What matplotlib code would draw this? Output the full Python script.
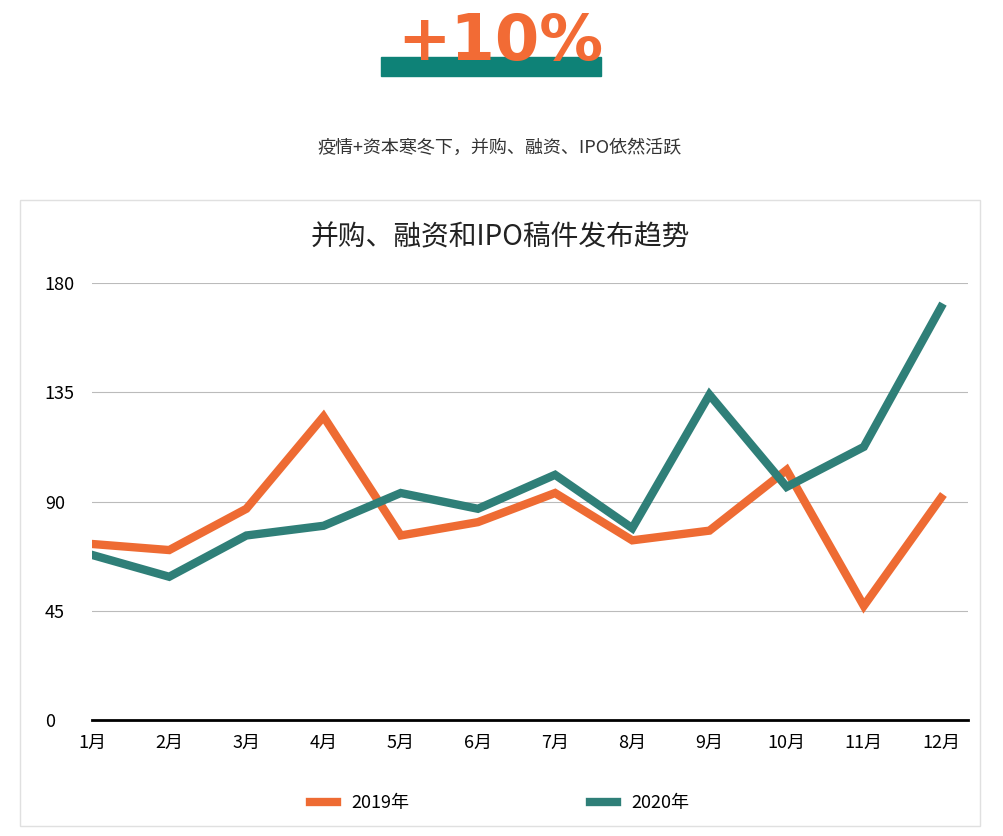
import matplotlib.pyplot as plt
from matplotlib.patches import Rectangle

plt.rcParams["font.family"] = ["sans-serif"]
plt.rcParams["font.sans-serif"] = ["Noto Sans CJK SC", "Noto Sans CJK JP", "Noto Sans CJK TC",
                                   "Noto Sans CJK KR", "DejaVu Sans"]

months = ["1月", "2月", "3月", "4月", "5月", "6月", "7月", "8月", "9月", "10月", "11月", "12月"]
y2019 = [72.5, 70, 87, 125, 76, 81.5, 93.5, 74, 78, 103, 47, 91.5]
y2020 = [68, 59, 76, 80, 93.5, 87, 101, 79, 134, 96, 112.5, 170]

orange = "#ee6b33"
teal = "#2f7f78"

fig = plt.figure(figsize=(10.04, 8.36), dpi=100)
W, H = 1004, 836

# header
fig.patches.append(Rectangle((381 / W, 1 - 76 / H), 220 / W, 19 / H,
                             transform=fig.transFigure, color="#0e8277", zorder=1))
fig.text(500 / W, 1 - 42 / H, "+10%", color="#f26b35", fontsize=46, fontweight="bold",
         ha="center", va="center", fontfamily="DejaVu Sans", zorder=2)
fig.text(500 / W, 1 - 148 / H, "疫情+资本寒冬下，并购、融资、IPO依然活跃",
         fontsize=13, ha="center", va="center", color="#333333")

# chart frame
fig.patches.append(Rectangle((20 / W, 1 - 826 / H), 960 / W, 626 / H, transform=fig.transFigure,
                             fill=False, edgecolor="#e0e0e0", lw=1))
fig.text(500 / W, 1 - 237 / H, "并购、融资和IPO稿件发布趋势", fontsize=20,
         ha="center", va="center", color="#222222")

ax = fig.add_axes([92 / W, 1 - 720 / H, 876 / W, 437 / H])
x = range(len(months))
ax.plot(x, y2019, color=orange, lw=6, label="2019年", solid_joinstyle="miter")
ax.plot(x, y2020, color=teal, lw=6, label="2020年", solid_joinstyle="miter")
ax.set_ylim(0, 180)
ax.set_xlim(0, 11.35)
ax.set_yticks([0, 45, 90, 135, 180])
ax.set_xticks(list(x))
ax.set_xticklabels(months)
ax.tick_params(length=0, labelsize=13, pad=10)
ax.tick_params(axis="y", pad=34)
for s in ["top", "right", "left"]:
    ax.spines[s].set_visible(False)
ax.spines["bottom"].set_linewidth(2)
ax.yaxis.grid(True, color="#bbbbbb", lw=0.8)
ax.set_axisbelow(True)
for lbl in ax.get_yticklabels():
    lbl.set_horizontalalignment("left")

fig.legend(loc="center", bbox_to_anchor=(500 / W, 1 - 803 / H), ncol=2, frameon=False,
           fontsize=13, handlelength=1.5, columnspacing=10)

fig.savefig("out.png", dpi=100)
